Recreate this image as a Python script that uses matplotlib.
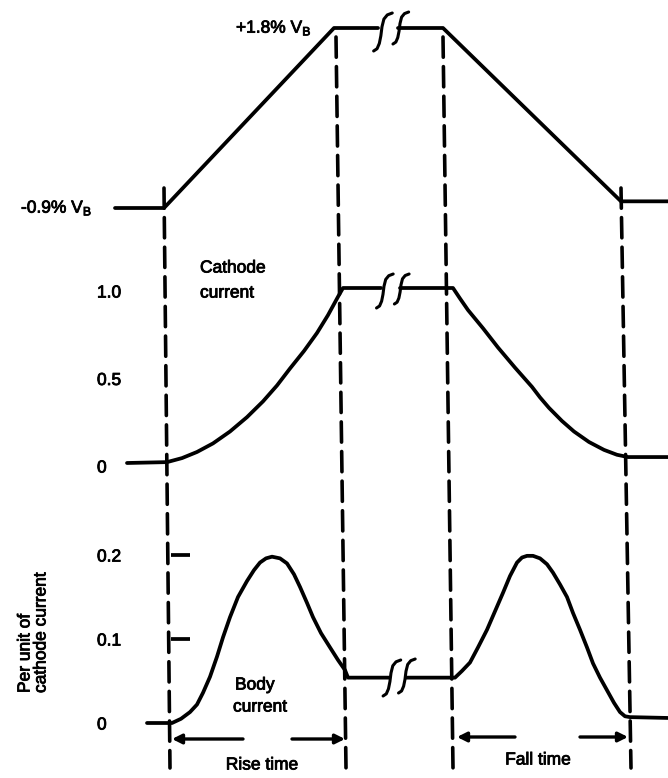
import matplotlib
matplotlib.use("Agg")
import matplotlib.pyplot as plt
import matplotlib.patheffects as pe
import numpy as np
from matplotlib.transforms import offset_copy

plt.rcParams['font.family'] = ['Liberation Sans Narrow', 'Liberation Sans', 'DejaVu Sans']
plt.rcParams['mathtext.fontset'] = 'custom'
plt.rcParams['mathtext.rm'] = 'Liberation Sans'
plt.rcParams['mathtext.it'] = 'Liberation Sans'

W, H = 668, 778

# ---------------- data (time axis in drawing units, left to right) ----------------
# Gate voltage (% of V_B)
gate_rise_t = [115, 164, 334, 378]
gate_rise_v = [-0.9, -0.9, 1.8, 1.8]
gate_fall_t = [398, 443, 621, 668]
gate_fall_v = [1.8, 1.8, -0.8, -0.8]
gate_ticks = ["-0.9% V$_\\mathrm{B}$", "+1.8% V$_\\mathrm{B}$"]

# Cathode current (per unit)
cath_rise_t = [127, 167, 182, 197, 213, 230, 247, 263, 277, 290, 304, 317, 328, 338, 343, 381]
cath_rise_v = [0.0, 0.005, 0.028, 0.063, 0.112, 0.180, 0.262, 0.352, 0.443, 0.540, 0.640, 0.743, 0.845, 0.950, 1.0, 1.0]
cath_fall_t = [400, 453, 460, 468, 483, 498, 515, 532, 540, 549, 562, 574, 589, 604, 617, 628, 668]
cath_fall_v = [1.0, 1.0, 0.94, 0.874, 0.77, 0.66, 0.545, 0.435, 0.375, 0.315, 0.24, 0.18, 0.12, 0.075, 0.047, 0.034, 0.034]
cath_ticks = [1.0, 0.5, 0.0]
cath_ticklabels = ["1.0", "0.5", "0"]

# Body current (per unit of cathode current)
body_rise_t = [147, 172, 181, 190, 197, 203, 210, 217, 223, 230, 238, 247, 254, 260, 266, 272,
               280, 287, 294, 300, 307, 313, 321, 330, 338, 345, 348, 389]
body_rise_v = [0.0, 0.0, 0.005, 0.013, 0.022, 0.036, 0.055, 0.079, 0.102, 0.126, 0.150, 0.169, 0.182,
               0.191, 0.196, 0.198, 0.196, 0.190, 0.177, 0.162, 0.143, 0.126, 0.107, 0.090, 0.075,
               0.063, 0.054, 0.054]
body_fall_t = [406, 455, 462, 470, 478, 487, 495, 503, 510, 517, 522, 527, 533, 540, 547, 553, 560,
               567, 573, 580, 587, 593, 600, 607, 614, 620, 625, 630, 668]
body_fall_v = [0.054, 0.054, 0.062, 0.072, 0.090, 0.111, 0.133, 0.155, 0.175, 0.191, 0.197, 0.199,
               0.199, 0.196, 0.189, 0.179, 0.165, 0.150, 0.131, 0.111, 0.090, 0.071, 0.054, 0.039,
               0.024, 0.013, 0.008, 0.007, 0.006]
body_ticks = [0.2, 0.1, 0.0]
body_ticklabels = ["0.2", "0.1", "0"]

# event instants (dashed markers): start rise, end rise, start fall, end fall
event_top_t = [164, 336, 443, 621]
event_bot_t = [170, 346, 453, 631]

# ---------------- figure ----------------
fig = plt.figure(figsize=(W / 100, H / 100), dpi=100)
fig.patch.set_facecolor('white')

LW = 2.7
FS = 12.5
PE = [pe.withStroke(linewidth=0.6, foreground='black')]


def band_axes(y0px, y1px, va, ya, vb, yb):
    slope = (yb - ya) / (vb - va)
    v_top = va + (y0px - ya) / slope
    v_bot = va + (y1px - ya) / slope
    ax = fig.add_axes([0, 1 - y1px / H, 1, (y1px - y0px) / H])
    ax.set_xlim(0, W)
    ax.set_ylim(v_bot, v_top)
    ax.axis('off')
    ax.patch.set_alpha(0)
    return ax


ax_top = band_axes(0, 240, -0.9, 208, 1.8, 28)
ax_mid = band_axes(240, 490, 0.0, 463, 1.0, 288)
ax_bot = band_axes(490, H, 0.0, 723, 0.2, 555)

kw = dict(color='black', lw=LW, solid_capstyle='round', solid_joinstyle='round')
ax_top.plot(gate_rise_t, gate_rise_v, **kw)
ax_top.plot(gate_fall_t, gate_fall_v, **kw)
ax_mid.plot(cath_rise_t, cath_rise_v, **kw)
ax_mid.plot(cath_fall_t, cath_fall_v, **kw)
ax_bot.plot(body_rise_t, body_rise_v, **kw)
ax_bot.plot(body_fall_t, body_fall_v, **kw)

# level labels
ax_top.text(21, -0.9, gate_ticks[0], fontsize=FS, ha='left', va='center', path_effects=PE)
ax_top.text(236, 1.8, gate_ticks[1], fontsize=FS, ha='left', va='center', path_effects=PE)

t_mid = offset_copy(ax_mid.transData, fig=fig, x=0, y=-5, units='dots')
for v, s in zip(cath_ticks, cath_ticklabels):
    ax_mid.text(97, v, s, fontsize=FS, ha='left', va='center', transform=t_mid, path_effects=PE)
t_bot = offset_copy(ax_bot.transData, fig=fig, x=0, y=-2, units='dots')
for v, s in zip(body_ticks, body_ticklabels):
    ax_bot.text(97, v, s, fontsize=FS, ha='left', va='center', transform=t_bot, path_effects=PE)
# small axis ticks for body current
for v in body_ticks[:2]:
    ax_bot.plot([171, 190], [v, v], color='black', lw=LW, solid_capstyle='butt')

# ---------------- overlay (annotations) ----------------
ov = fig.add_axes([0, 0, 1, 1])
ov.set_xlim(0, W)
ov.set_ylim(H, 0)
ov.axis('off')
ov.patch.set_alpha(0)

tops = [188, 37, 37, 188]
for xt, xb, yt in zip(event_top_t, event_bot_t, tops):
    ov.plot([xt, xb], [yt, 768], color='black', lw=2.6, linestyle=(0, (5.6, 2.6)),
            dash_capstyle='round')


def break_mark(cx, cy, h):
    rel = np.array([(0.27, -0.5), (0.14, -0.45), (0.05, -0.34), (0.0, -0.14), (-0.03, 0.1),
                    (-0.07, 0.3), (-0.13, 0.44), (-0.22, 0.5)])
    ov.plot(cx + rel[:, 0] * h, cy + rel[:, 1] * h, color='black', lw=2.2,
            solid_capstyle='round')


for (cx, cy, h) in [(382, 32, 38), (400, 28, 32), (384, 291, 34), (401, 289, 30),
                    (391, 678, 36), (406, 676, 34)]:
    break_mark(cx, cy, h)

tkw = dict(fontsize=FS, path_effects=PE)
ov.text(200, 268, "Cathode", ha='left', va='center', **tkw)
ov.text(200, 293, "current", ha='left', va='center', **tkw)
ov.text(235, 685, "Body", ha='left', va='center', **tkw)
ov.text(233, 707, "current", ha='left', va='center', **tkw)
ov.text(262, 765, "Rise time", ha='center', va='center', **tkw)
ov.text(538, 760, "Fall time", ha='center', va='center', **tkw)
ov.text(25, 693, "Per unit of", rotation=90, rotation_mode='anchor',
        ha='left', va='center', **tkw)
ov.text(41, 693, "cathode current", rotation=90, rotation_mode='anchor',
        ha='left', va='center', **tkw)

ap = dict(arrowstyle='-|>', lw=2.4, color='black', mutation_scale=14, shrinkA=0, shrinkB=0)
ov.annotate('', xy=(172, 739), xytext=(243, 739), arrowprops=ap)
ov.annotate('', xy=(345, 739), xytext=(292, 739), arrowprops=ap)
ov.annotate('', xy=(457, 737), xytext=(515, 737), arrowprops=ap)
ov.annotate('', xy=(628, 737), xytext=(580, 737), arrowprops=ap)

fig.savefig('out.png', dpi=100, facecolor='white')
